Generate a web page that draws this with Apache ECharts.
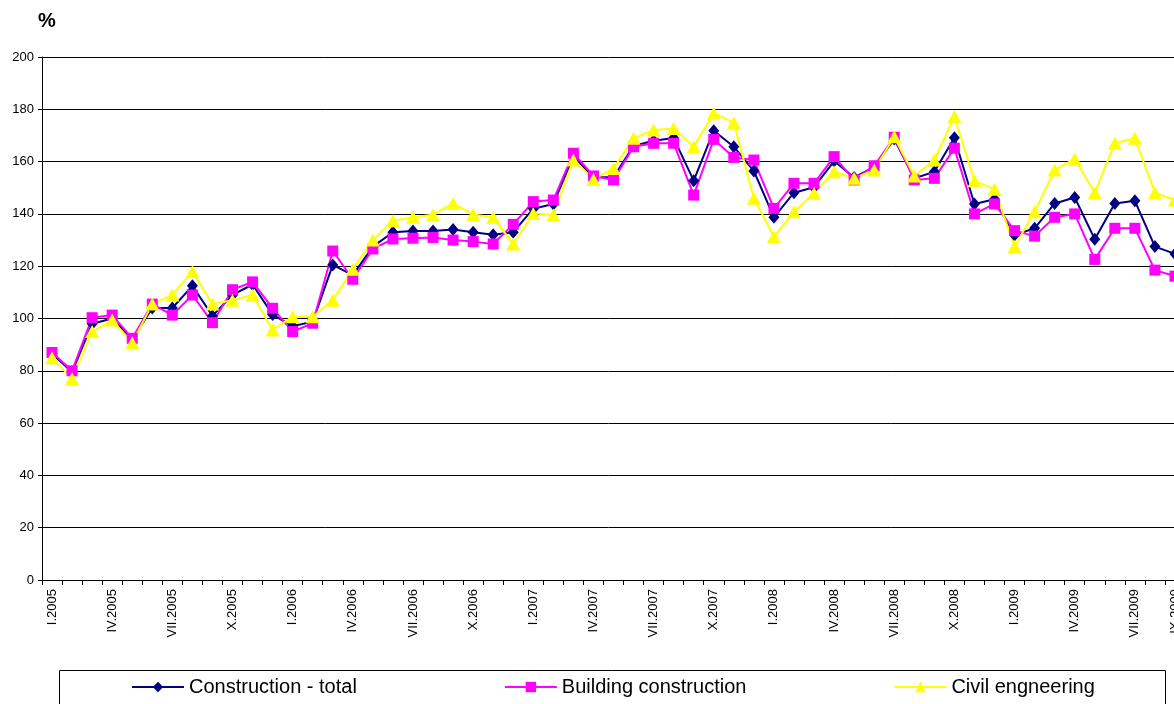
<!DOCTYPE html>
<html>
<head>
<meta charset="utf-8">
<script src="https://cdn.jsdelivr.net/npm/echarts@6/dist/echarts.min.js"></script>
<style>
html,body{margin:0;padding:0;background:#fff;}
#chart{width:1174px;height:704px;}
</style>
</head>
<body>
<div id="chart"></div>
<script>
var roman = ['I','II','III','IV','V','VI','VII','VIII','IX','X','XI','XII'];
var years = [2005, 2006, 2007, 2008, 2009];
var lastMonth = 'IX.2009';
var months = [];
years.forEach(function (y) {
  roman.forEach(function (r) {
    if (months.indexOf(lastMonth) === -1) months.push(r + '.' + y);
  });
});
var shownMonths = ['I', 'IV', 'VII', 'X'];

var total = [86.5, 79.5, 98, 100, 92, 104, 104, 112.5, 101, 109, 113, 101.5, 97, 98.8, 120.5, 116.6, 127.5, 133, 133.5, 133.5, 134, 133, 132, 133, 142, 143.8, 162, 154, 154, 166, 168, 169, 152.7, 171.8, 165.7, 156.4, 138.7, 148.1, 150.2, 160.2, 153.9, 158, 168.6, 153.6, 156.1, 169.1, 143.8, 145.6, 131.9, 134.5, 144, 146.3, 130.3, 144, 145, 127.5, 124.7];
var building = [87, 80, 100.3, 101.3, 92.4, 105.5, 101.3, 109, 98.4, 111, 114, 103.9, 95, 98.2, 125.8, 115, 126.6, 130.4, 130.7, 131, 130, 129.4, 128.5, 136, 144.7, 145.3, 163.2, 154.5, 153, 165.7, 167, 167, 147.2, 168.5, 161.6, 160.6, 142.1, 151.7, 151.7, 161.9, 153, 158.4, 169.3, 153, 153.6, 165.1, 140, 143.8, 133.6, 131.5, 138.7, 140, 122.6, 134.5, 134.5, 118.5, 116.2];
var civil = [85, 77, 95, 99.4, 90.7, 105.5, 109, 118, 105.5, 107, 109, 95.6, 100.7, 100.7, 107, 118.8, 130, 137.4, 138.7, 139.7, 144, 139.8, 138.7, 128.5, 140.2, 139.6, 160.6, 153.2, 157.4, 168.9, 172.1, 172.7, 165.7, 178.5, 174.9, 146, 131.3, 140.8, 147.9, 156.1, 153.6, 156.8, 169.5, 154.5, 160.6, 177.2, 152.7, 149.4, 127.5, 140.8, 156.8, 161, 148.1, 167, 168.9, 148.1, 145.3];
var seriesNames = ['Construction - total', 'Building construction', 'Civil engneering'];

var FONT = '"Liberation Sans", Arial, sans-serif';
var chart = echarts.init(document.getElementById('chart'), null, {renderer: 'canvas'});
chart.setOption({
  animation: false,
  backgroundColor: '#fff',
  textStyle: {fontFamily: FONT},
  grid: {left: 42, top: 57, height: 523, width: 1143, containLabel: false, outerBoundsMode: 'none'},
  graphic: [
    {type: 'text', left: 38, top: 11, style: {text: '%', font: 'bold 20px ' + FONT, fill: '#000'}},
    {type: 'rect', left: 57, top: 668, shape: {width: 1106, height: 60}, style: {fill: 'none', stroke: '#000', lineWidth: 1}}
  ],
  legend: {
    left: 131, top: 677, padding: 0, itemGap: 147, itemWidth: 52, itemHeight: 13,
    textStyle: {fontSize: 20, color: '#000', fontFamily: FONT, lineHeight: 20},
    data: seriesNames
  },
  xAxis: {
    type: 'category', data: months, boundaryGap: true,
    axisLine: {lineStyle: {color: '#000', width: 1}},
    axisTick: {show: true, interval: 0, length: 5, lineStyle: {color: '#000'}},
    axisLabel: {
      interval: 0, rotate: 90, margin: 9, fontSize: 13, color: '#000', fontFamily: FONT,
      hideOverlap: false,
      formatter: function (v) {
        var m = v.split('.')[0];
        return (shownMonths.indexOf(m) !== -1 || v === lastMonth) ? v : '';
      }
    },
    splitLine: {show: false}
  },
  yAxis: {
    type: 'value', min: 0, max: 200, interval: 20,
    axisLine: {show: true, lineStyle: {color: '#000', width: 1}},
    axisTick: {show: true, length: 4, lineStyle: {color: '#000'}},
    axisLabel: {fontSize: 13, color: '#000', margin: 8, fontFamily: FONT},
    splitLine: {show: true, lineStyle: {color: '#000', width: 1}}
  },
  series: [
    {name: seriesNames[0], type: 'line', data: total, symbol: 'diamond', symbolSize: [11, 13], showAllSymbol: true,
     itemStyle: {color: '#000080'}, lineStyle: {color: '#000080', width: 2}},
    {name: seriesNames[1], type: 'line', data: building, symbol: 'rect', symbolSize: 11, showAllSymbol: true,
     itemStyle: {color: '#FF00FF'}, lineStyle: {color: '#FF00FF', width: 2}},
    {name: seriesNames[2], type: 'line', data: civil, symbol: 'triangle', symbolSize: [14, 13], showAllSymbol: true,
     itemStyle: {color: '#FFFF00'}, lineStyle: {color: '#FFFF00', width: 2}}
  ]
});
</script>
</body>
</html>
